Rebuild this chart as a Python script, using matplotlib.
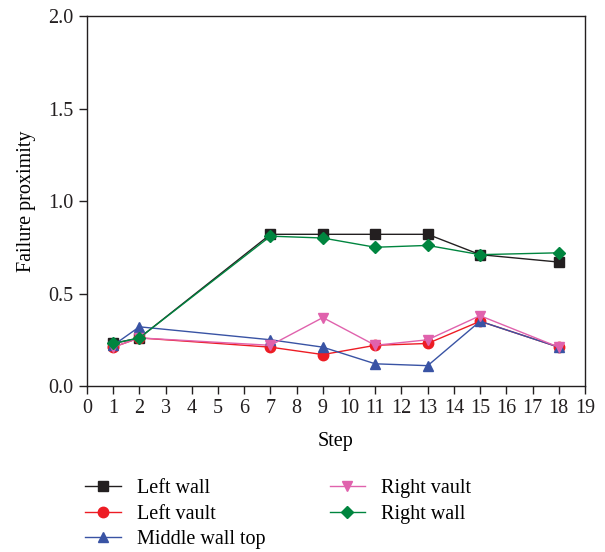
import matplotlib
matplotlib.use("Agg")
import matplotlib.pyplot as plt

plt.rcParams['font.family'] = ['Liberation Serif', 'DejaVu Serif']

steps = [1, 2, 7, 9, 11, 13, 15, 18]
left_wall = [0.23, 0.26, 0.82, 0.82, 0.82, 0.82, 0.71, 0.67]
left_vault = [0.21, 0.26, 0.21, 0.17, 0.22, 0.23, 0.35, 0.21]
middle_wall_top = [0.22, 0.32, 0.25, 0.21, 0.12, 0.11, 0.35, 0.21]
right_vault = [0.21, 0.26, 0.22, 0.37, 0.22, 0.25, 0.38, 0.21]
right_wall = [0.23, 0.26, 0.81, 0.80, 0.75, 0.76, 0.71, 0.72]

series = [
    ("Left wall", left_wall, "#231f20", "s"),
    ("Left vault", left_vault, "#ed1c24", "o"),
    ("Middle wall top", middle_wall_top, "#3953a4", "^"),
    ("Right vault", right_vault, "#e062ad", "v"),
    ("Right wall", right_wall, "#00853f", "D"),
]

fig = plt.figure(figsize=(6.05, 5.52), dpi=100)
ax = fig.add_axes([0.1438, 0.3007, 0.823, 0.6703])

for name, vals, c, m in series:
    ms = 7.5 if m != "D" else 6.5
    ax.plot(steps, vals, color=c, marker=m, markersize=ms, linewidth=1.0, label=name)

ax.set_xlim(0, 19)
ax.set_ylim(0, 2.0)
ax.set_xticks(range(0, 20))
ax.set_yticks([0.0, 0.5, 1.0, 1.5, 2.0])
ax.set_yticklabels(["0.0", "0.5", "1.0", "1.5", "2.0"])
ax.tick_params(direction='out', length=6, width=1, labelsize=14.5, colors='#231f20')
for s in ax.spines.values():
    s.set_linewidth(1.0)
    s.set_color('#231f20')
ax.set_xlabel("Step", fontsize=14.5, labelpad=10)
ax.set_ylabel("Failure proximity", fontsize=14.5, labelpad=9)

fig.legend(loc='upper left', bbox_to_anchor=(0.111, 0.1645), ncol=2, frameon=False,
           fontsize=14.5, handlelength=1.75, handletextpad=0.8, columnspacing=3.2,
           labelspacing=0.3)

fig.savefig("out.png", dpi=100)
